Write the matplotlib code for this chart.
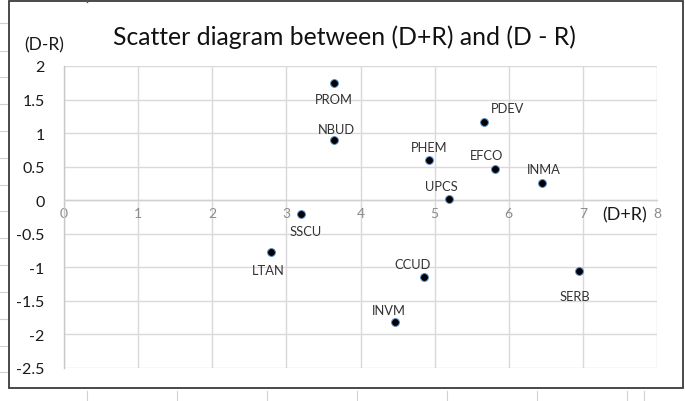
import matplotlib
matplotlib.use("Agg")
import matplotlib.pyplot as plt
from matplotlib.lines import Line2D
from matplotlib.patches import Rectangle

# ---- data ----
names = ["PROM", "NBUD", "PHEM", "PDEV", "EFCO", "INMA", "UPCS",
         "SSCU", "LTAN", "CCUD", "INVM", "SERB"]
d_plus_r = [3.64, 3.64, 4.92, 5.67, 5.81, 6.45, 5.20,
            3.20, 2.79, 4.85, 4.46, 6.95]
d_minus_r = [1.75, 0.89, 0.60, 1.16, 0.46, 0.26, 0.02,
             -0.21, -0.77, -1.14, -1.82, -1.06]
x_ticks = [0, 1, 2, 3, 4, 5, 6, 7, 8]
y_ticks = [-2.5, -2, -1.5, -1, -0.5, 0, 0.5, 1, 1.5, 2]
y_tick_labels = ["-2.5", "-2", "-1.5", "-1", "-0.5", "0", "0.5", "1", "1.5", "2"]
title = "Scatter diagram between (D+R) and (D - R)"
x_label = "(D+R)"
y_label = "(D-R)"
# label offsets in points (dx, dy) relative to each point
label_offsets = {
    "PROM": (0, -12), "NBUD": (2, 8), "PHEM": (0, 9), "PDEV": (17, 10),
    "EFCO": (-6, 10), "INMA": (1, 10), "UPCS": (-6, 9), "SSCU": (3, -12),
    "LTAN": (-2, -13), "CCUD": (-8, 9), "INVM": (-4, 9), "SERB": (-3, -18),
}

W, H = 685, 402
plt.rcParams['font.family'] = ['Lato', 'DejaVu Sans']
fig = plt.figure(figsize=(W / 100, H / 100), dpi=100)
fig.patch.set_facecolor("white")

def fx(px):
    return px / W

def fy(py):
    return 1 - py / H

# spreadsheet-like surroundings
for yy in [24, 52, 78, 105, 132, 159, 186, 212, 239, 266, 293, 320, 347, 373]:
    fig.add_artist(Line2D([fx(0), fx(7)], [fy(yy), fy(yy)], color="#d0d0d0", lw=0.8,
                          transform=fig.transFigure))
for xx in [87, 177, 267, 357, 447, 537, 627, 644]:
    fig.add_artist(Line2D([fx(xx), fx(xx)], [fy(392), fy(402)], color="#d0d0d0", lw=0.8,
                          transform=fig.transFigure))
fig.add_artist(Line2D([fx(87), fx(87)], [fy(0), fy(3)], color="#555555", lw=1,
                      transform=fig.transFigure))
fig.add_artist(Rectangle((fx(9), fy(389)), fx(683) - fx(9), fy(2) - fy(389),
                         fill=False, edgecolor="#3a3a3a", lw=1.3,
                         transform=fig.transFigure))

ax = fig.add_axes([fx(64), fy(369), fx(657) - fx(64), fy(67) - fy(369)])
ax.set_xlim(0, 8)
ax.set_ylim(-2.5, 2)
ax.set_xticks(x_ticks)
ax.set_yticks(y_ticks)
ax.set_yticklabels(y_tick_labels)
ax.grid(True, color="#d9d9d9", lw=1)
ax.set_axisbelow(True)
for s in ["top", "right"]:
    ax.spines[s].set_visible(False)
ax.spines["left"].set_color("#c8c8c8")
ax.spines["left"].set_linewidth(1)
ax.spines["bottom"].set_position(("data", 0))
ax.spines["bottom"].set_color("#d0d0d0")
ax.spines["bottom"].set_linewidth(1)
ax.tick_params(axis="both", length=0)
ax.tick_params(axis="x", colors="#8c8c8c", labelsize=10, pad=5)
ax.tick_params(axis="y", colors="#1a1a1a", labelsize=11.5, pad=14)
for lbl in ax.get_yticklabels():
    lbl.set_color("#1a1a1a")

ax.scatter(d_plus_r, d_minus_r, s=32, c="black", edgecolors="#5b8fd0",
           linewidths=0.7, zorder=3)
for n, x, y in zip(names, d_plus_r, d_minus_r):
    dx, dy = label_offsets[n]
    ax.annotate(n, (x, y), xytext=(dx, dy), textcoords="offset points",
                ha="center", va="center", fontsize=9.3, color="#333333")

fig.text(fx(344), fy(37), title, ha="center", va="center", fontsize=17.8, color="#111111")
fig.text(fx(44), fy(45), y_label, ha="center", va="center", fontsize=12.5, color="#1a1a1a")
fig.text(fx(625), fy(215), x_label, ha="center", va="center", fontsize=13, color="#1a1a1a")

fig.savefig("out.png", dpi=100, facecolor="white")
